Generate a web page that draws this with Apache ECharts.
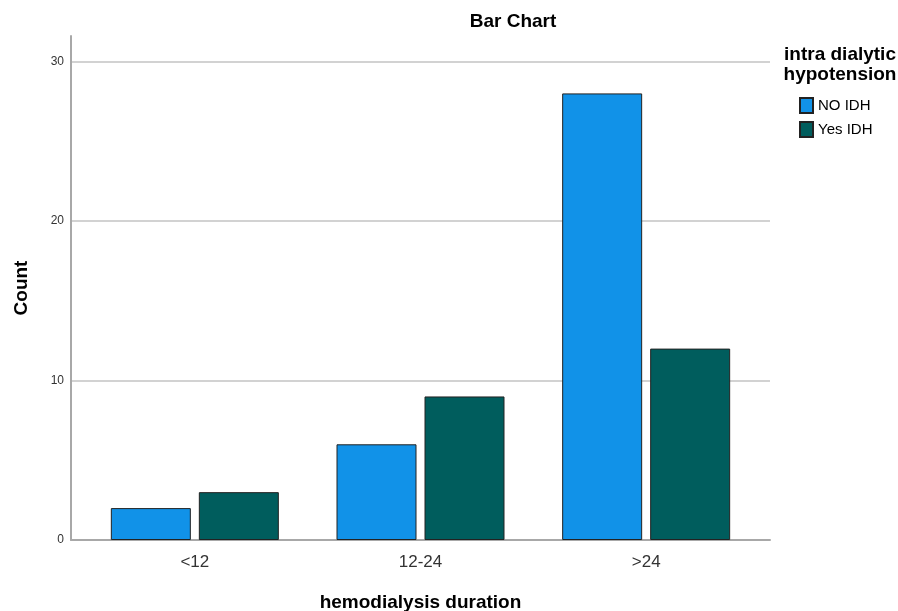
<!DOCTYPE html>
<html>
<head>
<meta charset="utf-8">
<script src="https://cdn.jsdelivr.net/npm/echarts@6/dist/echarts.min.js"></script>
<style>
  html, body { margin: 0; padding: 0; background: #fff; }
  #chart { width: 898px; height: 611px; }
</style>
</head>
<body>
<div id="chart"></div>
<script>
// dati
const categories = ['<12', '12-24', '>24'];
const noIdh = [2, 6, 28];
const yesIdh = [3, 9, 12];
const seriesNames = ['NO IDH', 'Yes IDH'];

const FONT = 'Arial, "Liberation Sans", sans-serif';
const chart = echarts.init(document.getElementById('chart'));

chart.setOption({
  backgroundColor: '#fff',
  animation: false,
  textStyle: { fontFamily: FONT },
  title: [
    { text: 'Bar Chart', left: 508, top: 7, textAlign: 'center',
      textStyle: { fontSize: 19, fontWeight: 'bold', color: '#000', fontFamily: FONT } },
    { text: 'intra dialytic\nhypotension', left: 835, top: 40, textAlign: 'center',
      textStyle: { fontSize: 19, fontWeight: 'bold', color: '#000', lineHeight: 20, fontFamily: FONT } }
  ],
  legend: {
    orient: 'vertical', left: 794, top: 92, itemGap: 7,
    itemWidth: 13, itemHeight: 15, icon: 'rect',
    textStyle: { fontSize: 15, color: '#000', fontFamily: FONT },
    data: seriesNames
  },
  // griglia 0: assi e linee guida; griglia 1: barre (categorie rientrate)
  grid: [
    { left: 71, right: 128, top: 36, bottom: 71, outerBoundsMode: 'none', containLabel: false },
    { left: 82, right: 139, top: 36, bottom: 71, outerBoundsMode: 'none', containLabel: false }
  ],
  xAxis: [
    { gridIndex: 0, type: 'value', min: 0, max: 1,
      axisLine: { show: true, lineStyle: { color: '#a8a8a8', width: 2 } },
      axisTick: { show: false }, axisLabel: { show: false }, splitLine: { show: false } },
    { gridIndex: 1, type: 'category', data: categories,
      axisLine: { show: false }, axisTick: { show: false },
      axisLabel: { fontSize: 17, color: '#333', margin: 14, fontFamily: FONT },
      name: 'hemodialysis duration', nameLocation: 'middle', nameGap: 53,
      nameTextStyle: { fontSize: 19, fontWeight: 'bold', color: '#000', fontFamily: FONT } }
  ],
  yAxis: [
    { gridIndex: 0, type: 'value', min: 0, max: 31.6, interval: 10,
      axisLine: { show: true, lineStyle: { color: '#a8a8a8', width: 2 } },
      axisTick: { show: false },
      axisLabel: { fontSize: 12, color: '#333', margin: 7, showMaxLabel: false, fontFamily: FONT },
      splitLine: { show: true, showMinLine: false, showMaxLine: false,
        lineStyle: { color: '#d2d2d2', width: 2 } },
      name: 'Count', nameLocation: 'middle', nameGap: 40, nameRotate: 90,
      nameTextStyle: { fontSize: 19, fontWeight: 'bold', color: '#000', fontFamily: FONT } },
    { gridIndex: 1, type: 'value', min: 0, max: 31.6, show: false, splitLine: { show: false } }
  ],
  series: [
    { name: seriesNames[0], type: 'bar', xAxisIndex: 1, yAxisIndex: 1, data: noIdh,
      barWidth: 80, barGap: '10%',
      itemStyle: { color: '#1192e8', borderColor: '#222', borderWidth: 1 } },
    { name: seriesNames[1], type: 'bar', xAxisIndex: 1, yAxisIndex: 1, data: yesIdh,
      barWidth: 80, barGap: '10%',
      itemStyle: { color: '#005d5d', borderColor: '#222', borderWidth: 1 } }
  ]
});
</script>
</body>
</html>
